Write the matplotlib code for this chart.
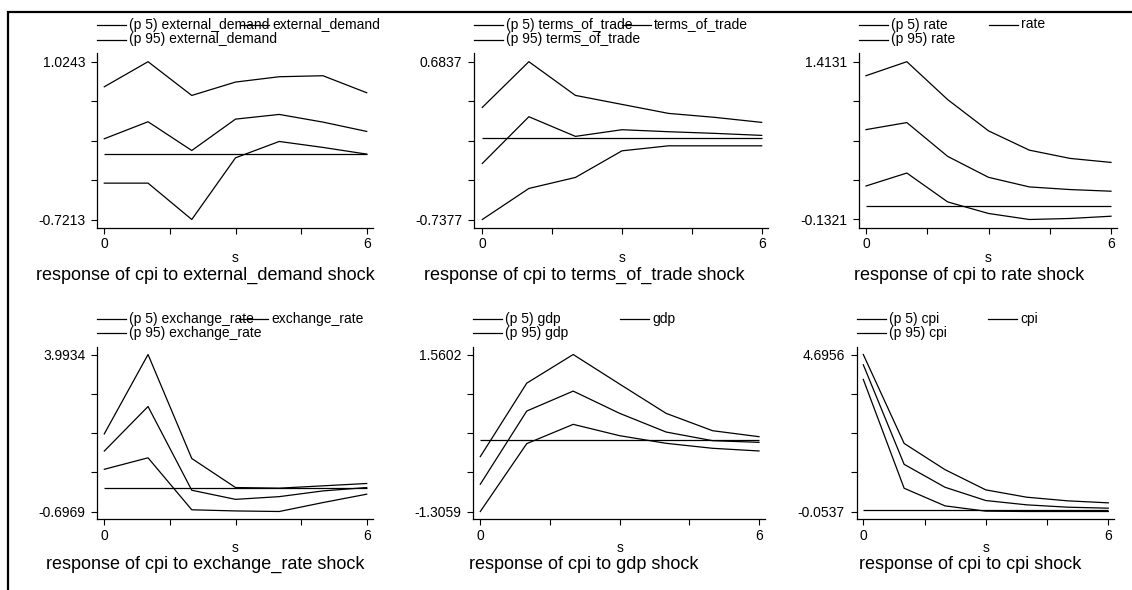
import numpy as np
import matplotlib
matplotlib.use("Agg")
import matplotlib.pyplot as plt
from matplotlib.lines import Line2D
from matplotlib.patches import Rectangle

plt.rcParams['font.family'] = ['Liberation Sans', 'DejaVu Sans']
plt.rcParams['axes.unicode_minus'] = False

# ---------------- data ----------------
steps = [0, 1, 2, 3, 4, 5, 6]
shocks = ["external_demand", "terms_of_trade", "rate",
          "exchange_rate", "gdp", "cpi"]

p95_external_demand = [0.747, 1.0243, 0.651, 0.799, 0.858, 0.869, 0.681]
irf_external_demand = [0.172, 0.360, 0.042, 0.389, 0.441, 0.356, 0.253]
p5_external_demand = [-0.319, -0.319, -0.7213, -0.039, 0.142, 0.076, 0.002]

p95_terms_of_trade = [0.272, 0.6837, 0.380, 0.299, 0.218, 0.182, 0.137]
irf_terms_of_trade = [-0.233, 0.188, 0.011, 0.071, 0.053, 0.038, 0.020]
p5_terms_of_trade = [-0.7377, -0.458, -0.359, -0.119, -0.074, -0.074, -0.074]

p95_rate = [1.276, 1.4131, 1.042, 0.736, 0.547, 0.466, 0.427]
irf_rate = [0.748, 0.817, 0.486, 0.281, 0.187, 0.161, 0.145]
p5_rate = [0.196, 0.323, 0.040, -0.073, -0.1321, -0.122, -0.100]

p95_exchange_rate = [1.623, 3.9934, 0.887, 0.019, 0.000, 0.070, 0.140]
irf_exchange_rate = [1.109, 2.440, -0.062, -0.334, -0.253, -0.082, 0.019]
p5_exchange_rate = [0.564, 0.907, -0.646, -0.680, -0.6969, -0.430, -0.180]

p95_gdp = [-0.304, 1.037, 1.5602, 1.020, 0.486, 0.169, 0.060]
irf_gdp = [-0.808, 0.528, 0.892, 0.486, 0.145, -0.013, -0.043]
p5_gdp = [-1.3059, -0.067, 0.285, 0.078, -0.061, -0.152, -0.201]

p95_cpi = [4.6956, 2.006, 1.213, 0.600, 0.379, 0.269, 0.208]
irf_cpi = [4.385, 1.373, 0.680, 0.278, 0.148, 0.077, 0.047]
p5_cpi = [3.943, 0.650, 0.117, -0.043, -0.0537, -0.0537, -0.0537]

upper = [p95_external_demand, p95_terms_of_trade, p95_rate,
         p95_exchange_rate, p95_gdp, p95_cpi]
middle = [irf_external_demand, irf_terms_of_trade, irf_rate,
          irf_exchange_rate, irf_gdp, irf_cpi]
lower = [p5_external_demand, p5_terms_of_trade, p5_rate,
         p5_exchange_rate, p5_gdp, p5_cpi]

x_ticks = [0, 1.5, 3, 4.5, 6]
x_ticklabels = ["0", "", "", "", "6"]

# ---------------- layout (pixels) ----------------
W, H = 1132, 590
fig = plt.figure(figsize=(W / 100, H / 100), dpi=100)
fig.patch.set_facecolor("white")

def fx(px):
    return px / W

def fy(py):
    return 1 - py / H

# L, R, x0px, x6px per panel
cols = [(97.3, 373.0, 104.3, 366.7),
        (474.3, 768.0, 482.3, 761.7),
        (859.3, 1117.3, 866.0, 1111.0),
        (97.3, 373.0, 104.3, 366.7),
        (473.3, 765.5, 480.3, 759.0),
        (856.7, 1114.3, 863.3, 1108.3)]
# T, B, ytop_px, ybot_px per row
rows = [(53.0, 227.7, 61.7, 219.5),
        (347.0, 519.0, 354.5, 511.5)]
legend_rows = [(24.5, 39.5), (318.5, 333.0)]
col2_offset = [143, 148, 130, 142, 147, 131.5]
title_cx = [205, 584, 969.5, 205, 584, 970]
title_base = [279.5, 569.0]
s_base = [261.5, 552.0]

lw = 0.9
for i, name in enumerate(shocks):
    L, R, x0, x6 = cols[i]
    r = i // 3
    T, B, yt, yb = rows[r]
    hi = max(upper[i])
    lo = min(lower[i])
    ax = fig.add_axes([fx(L), fy(B), (R - L) / W, (B - T) / H])
    sx = (x6 - x0) / 6.0
    ax.set_xlim(-(x0 - L) / sx, 6 + (R - x6) / sx)
    sy = (yb - yt) / (hi - lo)
    ax.set_ylim(lo - (B - yb) / sy, hi + (yt - T) / sy)

    ax.plot(steps, upper[i], color="black", lw=lw)
    ax.plot(steps, middle[i], color="black", lw=lw)
    ax.plot(steps, lower[i], color="black", lw=lw)
    ax.hlines(0, steps[0], steps[-1], color="black", lw=lw)

    for side in ("top", "right"):
        ax.spines[side].set_visible(False)
    for side in ("left", "bottom"):
        ax.spines[side].set_linewidth(0.9)
    ax.set_xticks(x_ticks)
    ax.set_xticklabels(x_ticklabels)
    yt_vals = np.linspace(lo, hi, 5)
    ax.set_yticks(yt_vals)
    ax.set_yticklabels([f"{lo:.4f}", "", "", "", f"{hi:.4f}"])
    ax.tick_params(axis="both", direction="out", length=4, width=0.8,
                   labelsize=10, colors="black")
    ax.tick_params(axis="y", pad=4.5)
    ax.tick_params(axis="x", pad=3)
    ax.set_facecolor("white")

    # x label 's'
    fig.text(fx(x0 + 3 * sx), fy(s_base[r]), "s", ha="center",
             va="baseline", fontsize=10)
    # title
    fig.text(fx(title_cx[i]), fy(title_base[r]),
             f"response of cpi to {name} shock", ha="center",
             va="baseline", fontsize=13)

    # legend
    ly1, ly2 = legend_rows[r]
    t1 = L + 32
    t2 = t1 + col2_offset[i]
    entries = [(L, t1, ly1, f"(p 5) {name}"),
               (t2 - 32, t2, ly1, name),
               (L, t1, ly2, f"(p 95) {name}")]
    for lx, tx, ly, lab in entries:
        fig.add_artist(Line2D([fx(lx), fx(tx - 3)], [fy(ly), fy(ly)],
                              color="black", lw=lw,
                              transform=fig.transFigure))
        fig.text(fx(tx), fy(ly), lab, ha="left", va="center", fontsize=10)

# outer border (partially cropped)
fig.add_artist(Rectangle((fx(8), -0.2), 1.5, fy(12) + 0.2, fill=False,
                         lw=1.6, edgecolor="black",
                         transform=fig.transFigure, clip_on=False))

fig.savefig("out.png", dpi=100, facecolor="white")
